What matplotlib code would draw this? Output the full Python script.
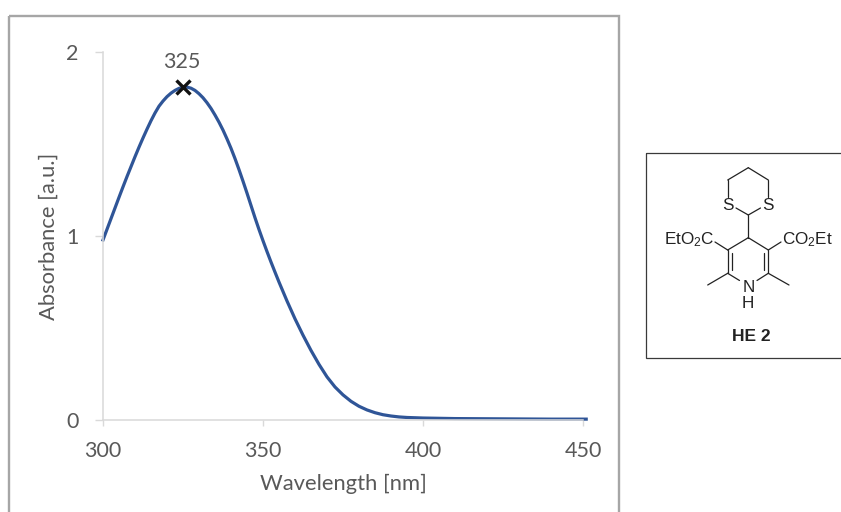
import matplotlib
matplotlib.use("Agg")
import matplotlib.pyplot as plt
from matplotlib.patches import Rectangle

W, H, DPI = 841, 512, 100
plt.rcParams['font.family'] = ['Lato', 'DejaVu Sans']
plt.rcParams['mathtext.fontset'] = 'custom'
plt.rcParams['mathtext.rm'] = 'Liberation Sans'

wavelength = [300, 301.25, 302.5, 303.75, 305, 306.25, 307.5, 308.75, 310, 311.25, 312.5, 313.75,
              315, 316.25, 317.5, 318.75, 320, 321.25, 322.5, 323.75, 325, 326.25, 327.5, 328.75,
              330, 331.25, 332.5, 333.75, 335, 336.25, 337.5, 338.75, 340, 341.25, 342.5, 343.75,
              345, 346.25, 347.5, 348.75, 350, 351.25, 352.5, 353.75, 355, 357.5, 360, 362.5, 365, 367.5,
              370, 372.5, 375, 377.5, 380, 382.5, 385, 387.5, 390, 392.5, 395, 400, 410, 420, 430, 440, 451]
absorbance = [.977, 1.035, 1.093, 1.151, 1.209, 1.266, 1.322, 1.376, 1.43, 1.482, 1.532, 1.58,
              1.626, 1.668, 1.705, 1.733, 1.757, 1.776, 1.791, 1.802, 1.808, 1.809, 1.803, 1.791,
              1.773, 1.751, 1.724, 1.693, 1.657, 1.618, 1.575, 1.527, 1.476, 1.42, 1.36, 1.297,
              1.232, 1.165, 1.098, 1.034, .973, .914, .857, .802, .748, .645, .548, .459, .376, .30,
              .232, .177, .134, .099, .072, .052, .037, .026, .019, .014, .011, .008, .005, .004, .003, .002, .002]
peak_x = [325]
peak_y = [1.808]
peak_label = "325"
x_ticks = [300, 350, 400, 450]
y_ticks = [0, 1, 2]
x_title = "Wavelength [nm]"
y_title = "Absorbance [a.u.]"

fig = plt.figure(figsize=(W / DPI, H / DPI), dpi=DPI)

# overlay in pixel coordinates for frames and the structure drawing
ov = fig.add_axes([0, 0, 1, 1], zorder=0)
ov.set_xlim(0, W)
ov.set_ylim(H, 0)
ov.axis('off')
ov.add_patch(Rectangle((9.5, 15.5), 610, 520, fill=False, ec='#A6A6A6', lw=1.7, clip_on=True))
ov.add_patch(Rectangle((646, 153), 210, 205, fill=False, ec='#3a3a3a', lw=0.9, clip_on=True))

bonds = [
    [(748.3, 237.7), (727.7, 250)], [(748.3, 237.7), (768.3, 250)],
    [(727.7, 250), (727.7, 273.3)], [(768.3, 250), (768.3, 273.3)],
    [(732.2, 253), (732.2, 270)], [(763.8, 253), (763.8, 270)],
    [(727.7, 273.3), (739.5, 280.5)], [(768.3, 273.3), (757, 280.5)],
    [(727.7, 273.3), (707.7, 285)], [(768.3, 273.3), (789, 285)],
    [(748.3, 237.7), (748.3, 215)],
    [(748.3, 215), (736, 208)], [(748.3, 215), (760.5, 208)],
    [(727.7, 196.5), (727.7, 180)], [(768.3, 196.5), (768.3, 180)],
    [(727.7, 180), (748.3, 167.7)], [(768.3, 180), (748.3, 167.7)],
    [(715, 242), (727.7, 250)], [(781, 242), (768.3, 250)],
]
for b in bonds:
    ov.plot([b[0][0], b[1][0]], [b[0][1], b[1][1]], color='#222222', lw=0.9, solid_capstyle='round')

chem = dict(family='Liberation Sans', color='#222222', fontsize=12.3, va='center')
ov.text(727.7, 205, 'S', ha='center', **chem)
ov.text(768.3, 205, 'S', ha='center', **chem)
ov.text(748.3, 287, 'N', ha='center', **chem)
ov.text(748.3, 303, 'H', ha='center', **chem)
ov.text(714, 240, r'$\mathrm{EtO_2C}$', ha='right', **chem)
ov.text(782, 240, r'$\mathrm{CO_2Et}$', ha='left', **chem)
ov.text(751.5, 336.5, 'HE 2', ha='center', family='Liberation Sans', weight='bold',
        color='#222222', fontsize=12.5, va='center')

ax = fig.add_axes([103 / W, 1 - 419.5 / H, 480 / W, 367.5 / H], zorder=1)
ax.patch.set_alpha(0)
ax.set_xlim(300, 450)
ax.set_ylim(0, 2)
ax.plot(wavelength, absorbance, color='#2F5597', lw=2.3, clip_on=False, solid_joinstyle='round')
ax.plot(peak_x, peak_y, marker='x', ms=9.5, mew=2.4, color='#111111', ls='none', clip_on=False, zorder=5)
ax.annotate(peak_label, (peak_x[0], peak_y[0]), xytext=(-1, 18), textcoords='offset points',
            ha='center', va='center', color='#595959', fontsize=15.5)

for s in ('top', 'right'):
    ax.spines[s].set_visible(False)
for s in ('left', 'bottom'):
    ax.spines[s].set_color('#D9D9D9')
    ax.spines[s].set_linewidth(1.1)
ax.set_xticks(x_ticks)
ax.set_yticks(y_ticks)
ax.tick_params(axis='x', color='#D9D9D9', length=4.5, width=1.0, labelcolor='#595959', labelsize=15.5, pad=11)
ax.tick_params(axis='y', color='#D9D9D9', length=5.5, width=1.0, labelcolor='#595959', labelsize=15.5, pad=12)
ax.set_xlabel(x_title, fontsize=15.8, color='#595959')
ax.set_ylabel(y_title, fontsize=15.8, color='#595959')
ax.xaxis.set_label_coords((343.5 - 103) / 480, (419.5 - 484) / 367.5)
ax.yaxis.set_label_coords((49 - 103) / 480, (419.5 - 236) / 367.5)
ax.xaxis.label.set_va('center')
ax.yaxis.label.set_va('center')

fig.savefig('out.png', dpi=DPI)
